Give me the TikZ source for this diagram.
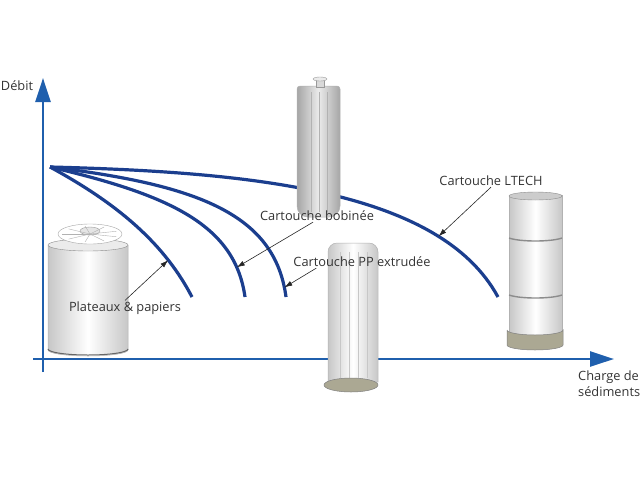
\documentclass[tikz,border=0pt]{standalone}
\usepackage{fontspec}
\setmainfont{Open Sans}
\usetikzlibrary{arrows.meta}

\definecolor{axisblue}{HTML}{1F5FAD}
\definecolor{curveblue}{HTML}{1B3E8E}
\definecolor{basegrey}{HTML}{ABA893}

\begin{document}
\begin{tikzpicture}[x=1pt, y=-1pt,
    every node/.style={font=\fontsize{12.8}{16}\selectfont, text=black!80, inner sep=1pt},
    axis/.style={axisblue, line width=2.6pt, -{Triangle[length=24pt,width=15pt]}},
    curve/.style={curveblue, line width=3.2pt},
    pointer/.style={black!85, line width=0.6pt, -{Latex[length=8pt,width=5pt]}},
    shell/.style={draw=black!30, line width=0.5pt, left color=black!22, right color=black!22, middle color=white},
    groove/.style={black!22, line width=0.6pt},
    base/.style={draw=black!50, line width=0.5pt, fill=basegrey}]
  \useasboundingbox (0,0) rectangle (640,480);

  % axes
  \coordinate (ybottom) at (43,372);
  \coordinate (ytop) at (43,78);
  \coordinate (xleft) at (33,359);
  \coordinate (xright) at (614,359);
  \draw[axis] (ybottom) -- (ytop);
  \draw[axis] (xleft) -- (xright);
  \node at (17,86) (debit) {Débit};
  \node[anchor=north west, align=left] at (577,370) (charge) {Charge de\\sédiments};

  % curves
  \coordinate (start) at (50,167);
  \draw[curve] (start) .. controls (120,205) and (165,245) .. (192,297) coordinate[pos=0.75] (pa);
  \draw[curve] (start) .. controls (170,195) and (235,225) .. (245,297) coordinate[pos=0.85] (pb);
  \draw[curve] (start) .. controls (200,185) and (275,215) .. (286,297) coordinate[pos=0.96] (pc);
  \draw[curve] (start) .. controls (250,172) and (440,190) .. (498,297) coordinate[pos=0.77] (pd);

  % plateaux & papiers
  \path[shell] (48,245) -- (48,350) arc[start angle=180, end angle=0, x radius=40, y radius=6] -- (128,245) -- cycle;
  \draw[black!60, line width=1pt] (48,349) arc[start angle=180, end angle=0, x radius=40, y radius=6];
  \draw[draw=black!45, fill=black!8] (88,245) ellipse[x radius=40, y radius=6];
  \draw[draw=black!35, fill=white] (90,234) ellipse[x radius=32, y radius=10];
  \draw[draw=black!40, fill=black!10] (90,231) ellipse[x radius=10, y radius=4];
  \foreach \a in {20,60,...,340}
    \draw[black!30] (90,234) -- ++(\a:28 and 8);

  % cartouche bobinee
  \path[shell, left color=black!35, right color=black!35, middle color=black!8] (318,86) [rounded corners=3pt] -- (297,86) [rounded corners=11pt] -- (297,217) -- (340,217) [rounded corners=3pt] -- (340,86) -- cycle;
  \foreach \x in {311,319,327}
    \draw[groove, black!30] (\x,92) -- (\x,212);
  \draw[draw=black!40, fill=black!15] (316,79) rectangle (324,87);
  \draw[draw=black!40, fill=black!8] (320,79) ellipse[x radius=7, y radius=2];

  % cartouche PP extrudee
  \path[shell] (353,243) [rounded corners=9pt] -- (328,243) [rounded corners=0pt] -- (328,382) -- (378,382) [rounded corners=9pt] -- (378,243) -- cycle;
  \foreach \x in {340,349,358,367}
    \draw[groove] (\x,252) -- (\x,378);
  \draw[base] (351,385) ellipse[x radius=27, y radius=7];

  % cartouche LTECH
  \path[shell] (509,195) rectangle (562,335);
  \draw[draw=black!45, fill=black!20] (535.5,196) ellipse[x radius=26.5, y radius=4];
  \foreach \y in {238,295}
    \draw[black!45, line width=1.4pt] (509,\y) .. controls (520,\y+4) and (551,\y+4) .. (562,\y);
  \draw[base] (507,330) -- (507,345) arc[start angle=180, end angle=0, x radius=28, y radius=5] -- (563,330) arc[start angle=0, end angle=180, x radius=28, y radius=5];

  % labels
  \node at (125,308) (plateaux) {Plateaux \& papiers};
  \node at (317,216) (bobinee) {Cartouche bobinée};
  \node at (362,262) (ppextr) {Cartouche PP extrudée};
  \node at (491,181) (ltech) {Cartouche LTECH};

  \draw[pointer] (plateaux.north) -- (pa);
  \draw[pointer] ([xshift=-4pt]bobinee.south) -- (pb);
  \draw[pointer] ([xshift=24pt]ppextr.south west) -- (pc);
  \draw[pointer] (ltech.south) -- (pd);
\end{tikzpicture}
\end{document}
